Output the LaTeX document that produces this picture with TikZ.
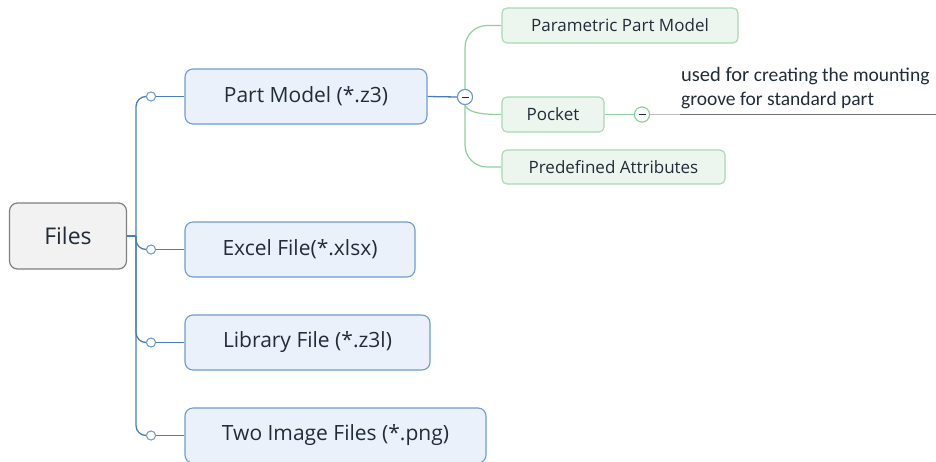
\documentclass[tikz,border=0pt]{standalone}
\usepackage{fontspec}
\setmainfont{Open Sans}
\newfontfamily\notefont{Carlito}
\definecolor{txt}{HTML}{222C38}
\definecolor{bluefill}{HTML}{EAF1FA}
\definecolor{blueedge}{HTML}{6E9BD2}
\definecolor{blueline}{HTML}{4A7EBB}
\definecolor{greyfill}{HTML}{F2F2F2}
\definecolor{greyedge}{HTML}{7F7F7F}
\definecolor{greenfill}{HTML}{ECF6EF}
\definecolor{greenedge}{HTML}{A6D9B4}
\definecolor{greenline}{HTML}{8FCF9F}
\begin{document}
\begin{tikzpicture}[x=1pt,y=-1pt,
  rootbox/.style={draw=greyedge,fill=greyfill,line width=1.2pt,rounded corners=8pt,
    text=txt,font=\fontsize{23}{27}\selectfont,inner sep=0pt},
  bluebox/.style={draw=blueedge,fill=bluefill,line width=1.1pt,rounded corners=8pt,
    text=txt,font=\fontsize{21}{24}\selectfont,inner sep=0pt,minimum height=55pt},
  greenbox/.style={draw=greenedge,fill=greenfill,line width=1.1pt,rounded corners=5pt,
    text=txt,font=\fontsize{17}{20}\selectfont,inner sep=0pt,minimum height=35pt},
  knob/.style={circle,draw=blueedge,fill=white,line width=0.9pt,minimum size=9pt,inner sep=0pt},
  bline/.style={draw=blueline,line width=1.3pt},
  gline/.style={draw=greenline,line width=1.2pt},
  fold/.style={circle,fill=white,line width=1pt,minimum size=15pt,inner sep=0pt},
  dash line/.style={draw=txt,line width=0.8pt},
]
\useasboundingbox (0,0) rectangle (936,461);

% root and first-level topics
\node[rootbox,minimum width=117pt,minimum height=66pt] (files) at (68,236) {Files};
\node[bluebox,minimum width=242pt] (part) at (306,96.5) {Part Model (*.z3)};
\node[bluebox,minimum width=230pt] (excel) at (300,249.5) {Excel File(*.xlsx)};
\node[bluebox,minimum width=245pt] (lib) at (307.5,342.5) {Library File (*.z3l)};
\node[bluebox,minimum width=301pt] (img) at (335.5,435.5) {Two Image Files (*.png)};

% knobs on the trunk
\node[knob] (k1) at (151,96.5) {};
\node[knob] (k2) at (151,249.5) {};
\node[knob] (k3) at (151,342.5) {};
\node[knob] (k4) at (151,435.5) {};
\coordinate (trunk) at (136,236);

\draw[bline,line width=1.7pt] (files.east) -- (trunk);
\foreach \k in {k1,k2,k3,k4}
  \draw[bline,rounded corners=10pt] (trunk) |- (\k.west);
\draw[bline] (k1) -- (part);
\draw[bline] (k2) -- (excel);
\draw[bline] (k3) -- (lib);
\draw[bline] (k4) -- (img);
\foreach \k in {k1,k2,k3,k4} \node[knob] at (\k) {};

% second-level topics under Part Model
\node[greenbox,minimum width=236pt] (param) at (620,25.5) {Parametric Part Model};
\node[greenbox,minimum width=102pt] (pocket) at (553,114.5) {Pocket};
\node[greenbox,minimum width=223pt,minimum height=34pt] (predef) at (613.5,167) {Predefined Attributes};

\node[fold,draw=blueedge] (m1) at (465,97) {};
\draw[bline] (part.east) -- (m1.west);
\draw[gline,rounded corners=22pt] (m1.north) |- (param.west);
\draw[gline,rounded corners=22pt] (m1.south) |- (predef.west);
\draw[gline] (m1.south) .. controls (468,112) and (478,114.5) .. (pocket.west);
\node[fold,draw=blueedge] at (m1) {};
\draw[dash line] ([xshift=-3.5pt]m1.center) -- ([xshift=3.5pt]m1.center);

% note attached to Pocket
\node[fold,draw=greenline] (m2) at (642,114.5) {};
\draw[gline] (pocket.east) -- (m2.west);
\coordinate (nl) at (680,114.5);
\coordinate (nr) at (936,114.5);
\draw[draw=black!25,line width=1.8pt] (m2.east) -- (nl);
\draw[draw=black!55,line width=0.8pt] (nl) -- (nr);
\node[fold,draw=greenline] at (m2) {};
\draw[dash line] ([xshift=-3.5pt]m2.center) -- ([xshift=3.5pt]m2.center);
\node[anchor=south west,inner sep=0pt,align=left,text=txt,
  font=\notefont\fontsize{19.5}{23.5}\selectfont] (note) at (681,109)
  {{\fontsize{20.5}{23.5}\selectfont used for} creating the mounting\\groove for standard part};
\end{tikzpicture}
\end{document}
